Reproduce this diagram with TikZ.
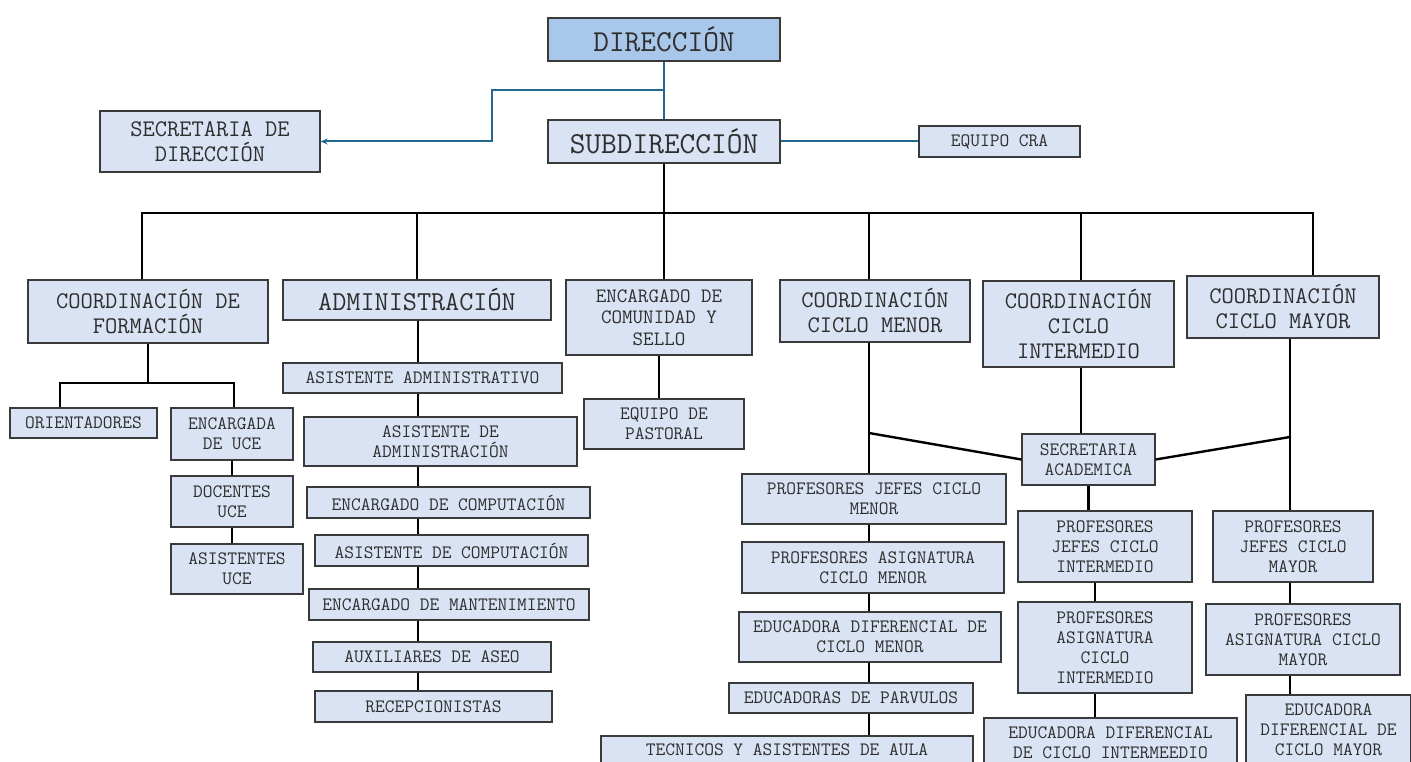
\documentclass[tikz,border=0pt]{standalone}
\usepackage{fontspec}
\usetikzlibrary{arrows.meta}
\definecolor{boxfill}{HTML}{DAE3F3}
\definecolor{topfill}{HTML}{A8C7EB}
\definecolor{boxdraw}{HTML}{3A3A3A}
\definecolor{linkblue}{HTML}{23698E}
\definecolor{txt}{HTML}{2E2E2E}
\tikzset{
  box/.style={draw=boxdraw, line width=1.3pt, fill=boxfill, inner sep=0pt, align=center, text=txt},
  fxl/.style={font=\ttfamily\fontsize{30.5}{30}\selectfont},
  fl/.style={font=\ttfamily\fontsize{27.4}{28}\selectfont},
  fm/.style={font=\ttfamily\fontsize{23.8}{25}\selectfont},
  fcom/.style={font=\ttfamily\fontsize{20.4}{21.5}\selectfont},
  fs/.style={font=\ttfamily\fontsize{18.9}{20}\selectfont},
  conn/.style={draw=black, line width=2.4pt},
  blink/.style={draw=linkblue, line width=2pt},
}
\begin{document}
\begin{tikzpicture}[x=1pt,y=-1pt]
\useasboundingbox (0,0) rectangle (1411,762);
\clip (0,0) rectangle (1411,762);
% top
\node[box, fxl, fill=topfill, minimum width=232, minimum height=43] (dir) at (664,39.5) {DIRECCIÓN};
\node[box, fxl, minimum width=232, minimum height=43] (sub) at (664,141.5) {SUBDIRECCIÓN};
\node[box, fm, minimum width=220, minimum height=61] (sec) at (210,141.5) {SECRETARIA DE\\DIRECCIÓN};
\node[box, fs, minimum width=161, minimum height=31] (cra) at (999.5,141.5) {EQUIPO CRA};
% second level
\node[box, fm, minimum width=240, minimum height=63] (cf) at (148,311.5) {COORDINACIÓN DE\\FORMACIÓN};
\node[box, fl, minimum width=268, minimum height=40] (adm) at (417,300) {ADMINISTRACIÓN};
\node[box, fcom, minimum width=186, minimum height=75] (com) at (659,317.5) {ENCARGADO DE\\COMUNIDAD Y\\SELLO};
\node[box, fm, minimum width=190, minimum height=62] (cm) at (875,311) {COORDINACIÓN\\CICLO MENOR};
\node[box, fm, minimum width=191, minimum height=86] (ci) at (1078.5,324) {COORDINACIÓN\\CICLO\\INTERMEDIO};
\node[box, fm, minimum width=192, minimum height=62] (cy) at (1283,307) {COORDINACIÓN\\CICLO MAYOR};
% formacion
\node[box, fs, minimum width=147, minimum height=30] (ori) at (83.5,423) {ORIENTADORES};
\node[box, fs, minimum width=122, minimum height=52] (euce) at (232,434) {ENCARGADA\\DE UCE};
\node[box, fs, minimum width=122, minimum height=51] (duce) at (232,501.5) {DOCENTES\\UCE};
\node[box, fs, minimum width=132, minimum height=50] (auce) at (237,569) {ASISTENTES\\UCE};
% administracion
\node[box, fs, minimum width=279, minimum height=30] (aa) at (422.5,378) {ASISTENTE ADMINISTRATIVO};
\node[box, fs, minimum width=273, minimum height=49] (ada) at (440.5,441.5) {ASISTENTE DE\\ADMINISTRACIÓN};
\node[box, fs, minimum width=283, minimum height=31] (ec) at (448.5,502.5) {ENCARGADO DE COMPUTACIÓN};
\node[box, fs, minimum width=273, minimum height=31] (ac) at (451.5,550.5) {ASISTENTE DE COMPUTACIÓN};
\node[box, fs, minimum width=280, minimum height=31] (em) at (449,604.5) {ENCARGADO DE MANTENIMIENTO};
\node[box, fs, minimum width=238, minimum height=30] (aux) at (432,657) {AUXILIARES DE ASEO};
\node[box, fs, minimum width=237, minimum height=31] (rec) at (433.5,706.5) {RECEPCIONISTAS};
% comunidad
\node[box, fs, minimum width=160, minimum height=50] (pas) at (664,424) {EQUIPO DE\\PASTORAL};
% ciclo menor
\node[box, fs, minimum width=264, minimum height=50] (pjm) at (874,499) {PROFESORES JEFES CICLO\\MENOR};
\node[box, fs, minimum width=262, minimum height=51] (pam) at (873,567.5) {PROFESORES ASIGNATURA\\CICLO MENOR};
\node[box, fs, minimum width=262, minimum height=50] (edm) at (870,637) {EDUCADORA DIFERENCIAL DE\\CICLO MENOR};
\node[box, fs, minimum width=244, minimum height=30] (par) at (851,698) {EDUCADORAS DE PARVULOS};
\node[box, fs, minimum width=372, minimum height=28] (tec) at (787,750) {TECNICOS Y ASISTENTES DE AULA};
% secretaria academica and intermedio
\node[box, fs, minimum width=133, minimum height=51] (sa) at (1088.5,459.5) {SECRETARIA\\ACADEMICA};
\node[box, fs, minimum width=174, minimum height=71] (pji) at (1105,546.5) {PROFESORES\\JEFES CICLO\\INTERMEDIO};
\node[box, fs, minimum width=174, minimum height=91] (pai) at (1105,647.5) {PROFESORES\\ASIGNATURA\\CICLO\\INTERMEDIO};
\node[box, fs, minimum width=253, minimum height=50] (edi) at (1110.5,743) {EDUCADORA DIFERENCIAL\\DE CICLO INTERMEEDIO};
% mayor
\node[box, fs, minimum width=160, minimum height=71] (pjy) at (1293,546.5) {PROFESORES\\JEFES CICLO\\MAYOR};
\node[box, fs, minimum width=194, minimum height=71] (pay) at (1303,639.5) {PROFESORES\\ASIGNATURA CICLO\\MAYOR};
\node[box, fs, minimum width=165, minimum height=70] (edy) at (1328.5,730) {EDUCADORA\\DIFERENCIAL DE\\CICLO MAYOR};
% coordinates
\coordinate (k1) at (664,90);
\coordinate (k2) at (492,141.5);
\coordinate (jL) at (142,213);
\coordinate (jR) at (1313,213);
\coordinate (fL) at (60,383);
\coordinate (fR) at (234,383);
\coordinate (colM) at (869,0);
\coordinate (bM) at (869,433);
\coordinate (bY) at (1290,437);
\coordinate (colI) at (1095,0);
\coordinate (colA) at (418,0);
% blue connectors
\draw[blink] (dir.south) -- (sub.north);
\draw[blink, -{Stealth[length=7pt,width=6pt]}] (k1) -| (k2) -- (sec.east);
\draw[blink] (sub.east) -- (cra.west);
% main tree
\draw[conn] (sub.south) -- (sub.south |- com.north);
\draw[conn] (cf.north -| jL) |- (jR) -- (jR |- cy.north);
\draw[conn] (adm.north) -- (adm.north |- jL);
\draw[conn] (cm.north -| colM) -- (colM |- jL);
\draw[conn] (ci.north -| 1081,0) -- (1081,213);
% formacion
\draw[conn] (cf.south) -- (cf.south |- fL);
\draw[conn] (ori.north -| fL) |- (fR) -- (euce.north -| fR);
\draw[conn] (euce.south) -- (duce.north);
\draw[conn] (duce.south) -- (duce.south |- auce.north);
% administracion
\draw[conn] (adm.south -| colA) -- (aa.north -| colA);
\foreach \a/\b in {aa/ada, ada/ec, ec/ac, ac/em, em/aux, aux/rec}
  \draw[conn] (\a.south -| colA) -- (\b.north -| colA);
% comunidad
\draw[conn] (com.south) -- (pas.north -| com.south);
% ciclo menor
\draw[conn] (cm.south -| colM) -- (pjm.north -| colM);
\foreach \a/\b in {pjm/pam, pam/edm, edm/par, par/tec}
  \draw[conn] (\a.south -| colM) -- (\b.north -| colM);
% secretaria academica
\draw[line width=2.4pt] (bM) -- (sa.west);
\draw[line width=2.4pt] (sa.east) -- (bY);
\draw[conn] (ci.south -| 1081,0) -- (sa.north -| 1081,0);
\draw[conn] (sa.south) -- (pji.north -| sa.south);
\draw[conn] (pji.south -| colI) -- (pai.north -| colI);
\draw[conn] (pai.south -| colI) -- (edi.north -| colI);
% mayor
\draw[conn] (cy.south -| bY) -- (pjy.north -| bY);
\draw[conn] (pjy.south -| bY) -- (pay.north -| bY);
\draw[conn] (pay.south -| bY) -- (edy.north -| bY);
\end{tikzpicture}
\end{document}
